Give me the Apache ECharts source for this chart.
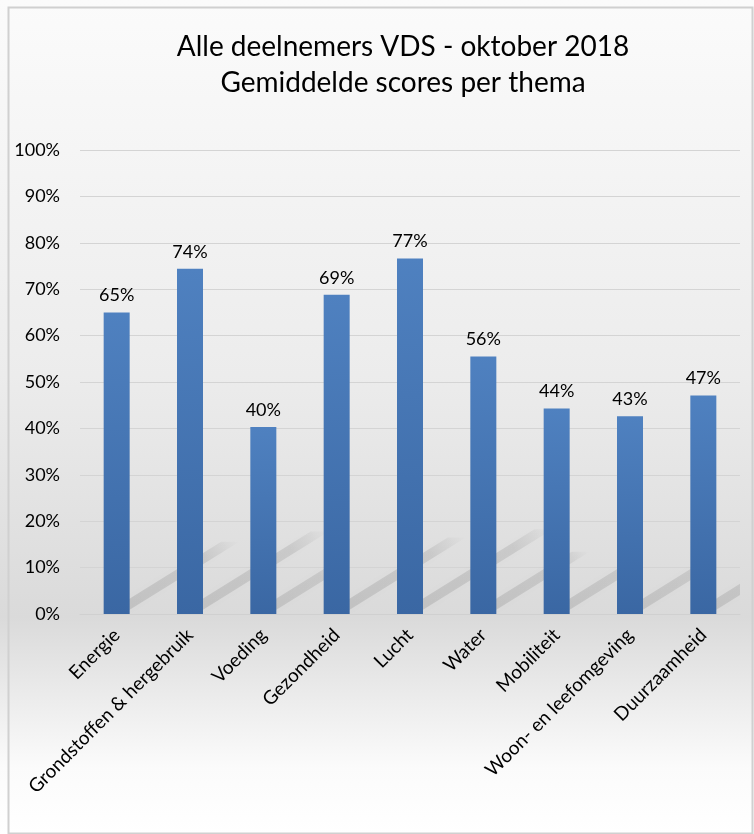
<!DOCTYPE html>
<html>
<head>
<meta charset="utf-8">
<script src="https://cdn.jsdelivr.net/npm/echarts@6/dist/echarts.min.js"></script>
<style>
  html, body { margin: 0; padding: 0; background: #ffffff; }
  #chart { width: 754px; height: 834px; }
</style>
</head>
<body>
<div id="chart"></div>
<script>
const titleLines = ['Alle deelnemers VDS - oktober 2018', 'Gemiddelde scores per thema'];
const categories = ['Energie', 'Grondstoffen & hergebruik', 'Voeding', 'Gezondheid', 'Lucht', 'Water', 'Mobiliteit', 'Woon- en leefomgeving', 'Duurzaamheid'];
const scores = [65.0, 74.4, 40.3, 68.8, 76.6, 55.5, 44.3, 42.6, 47.1];
const yTicks = { min: 0, max: 100, interval: 10 };

const FONT = 'Lato, "Open Sans", sans-serif';
const BAR_W = 26;
const chart = echarts.init(document.getElementById('chart'), null, { renderer: 'canvas' });

function renderShadow(params, api) {
  const idx = api.value(0);
  const base = api.coord([idx, 0]);
  const top = api.coord([idx, api.value(1)]);
  const h = base[1] - top[1];
  const dx = 0.37 * h, dy = 0.23 * h;
  const xL = base[0] - BAR_W / 2 + 6, xR = base[0] + BAR_W / 2 - 2;
  const y0 = base[1] - 3;
  return {
    type: 'polygon',
    shape: { points: [[xL, y0], [xR, y0], [xR + dx, y0 - dy], [xL + dx, y0 - dy]] },
    style: {
      fill: {
        type: 'linear', x: 0, y: 1, x2: 1, y2: 0,
        colorStops: [
          { offset: 0, color: 'rgba(0,0,0,0.11)' },
          { offset: 0.75, color: 'rgba(0,0,0,0.09)' },
          { offset: 1, color: 'rgba(0,0,0,0.0)' }
        ]
      },
      shadowBlur: 10, shadowColor: 'rgba(0,0,0,0.12)'
    },
    silent: true
  };
}

chart.setOption({
  backgroundColor: {
    type: 'linear', x: 0, y: 0, x2: 0, y2: 1,
    colorStops: [
      { offset: 0, color: '#fbfbfb' },
      { offset: 0.45, color: '#ececec' },
      { offset: 0.74, color: '#dadada' },
      { offset: 0.92, color: '#fbfbfb' },
      { offset: 1, color: '#ffffff' }
    ]
  },
  animation: false,
  graphic: [{
    type: 'rect', left: 6, top: 5,
    shape: { width: 744, height: 826 },
    style: { fill: 'none', stroke: '#d0d0d0', lineWidth: 2 },
    silent: true
  }],
  title: {
    text: titleLines.join('\n'),
    left: 398,
    textAlign: 'center',
    top: 24,
    textStyle: { fontFamily: FONT, fontSize: 28, fontWeight: 'normal', color: '#000000', lineHeight: 36 }
  },
  grid: { left: 80, right: 14, top: 150, bottom: 220, containLabel: false },
  xAxis: {
    type: 'category',
    data: categories,
    axisLine: { show: true, lineStyle: { color: '#d0d0d0' } },
    axisTick: { show: false },
    axisLabel: { rotate: 45, interval: 0, fontFamily: FONT, fontSize: 19, color: '#000000', margin: 18 }
  },
  yAxis: {
    type: 'value',
    min: yTicks.min, max: yTicks.max, interval: yTicks.interval,
    axisLine: { show: false },
    axisTick: { show: false },
    splitLine: { lineStyle: { color: '#d4d4d4', width: 1 } },
    axisLabel: { formatter: '{value}%', fontFamily: FONT, fontSize: 18, color: '#000000', margin: 20 }
  },
  series: [{
    type: 'custom',
    data: scores.map((v, i) => [i, v]),
    renderItem: renderShadow,
    clip: true,
    z: 1,
    silent: true
  }, {
    type: 'bar',
    data: scores,
    barWidth: BAR_W,
    z: 2,
    itemStyle: {
      color: {
        type: 'linear', x: 0, y: 0, x2: 0, y2: 1,
        colorStops: [{ offset: 0, color: '#4f81c0' }, { offset: 1, color: '#3a67a3' }]
      }
    },
    label: {
      show: true, position: 'top', distance: 8,
      formatter: p => Math.round(p.value) + '%',
      fontFamily: FONT, fontSize: 18, color: '#000000'
    }
  }]
});
</script>
</body>
</html>
